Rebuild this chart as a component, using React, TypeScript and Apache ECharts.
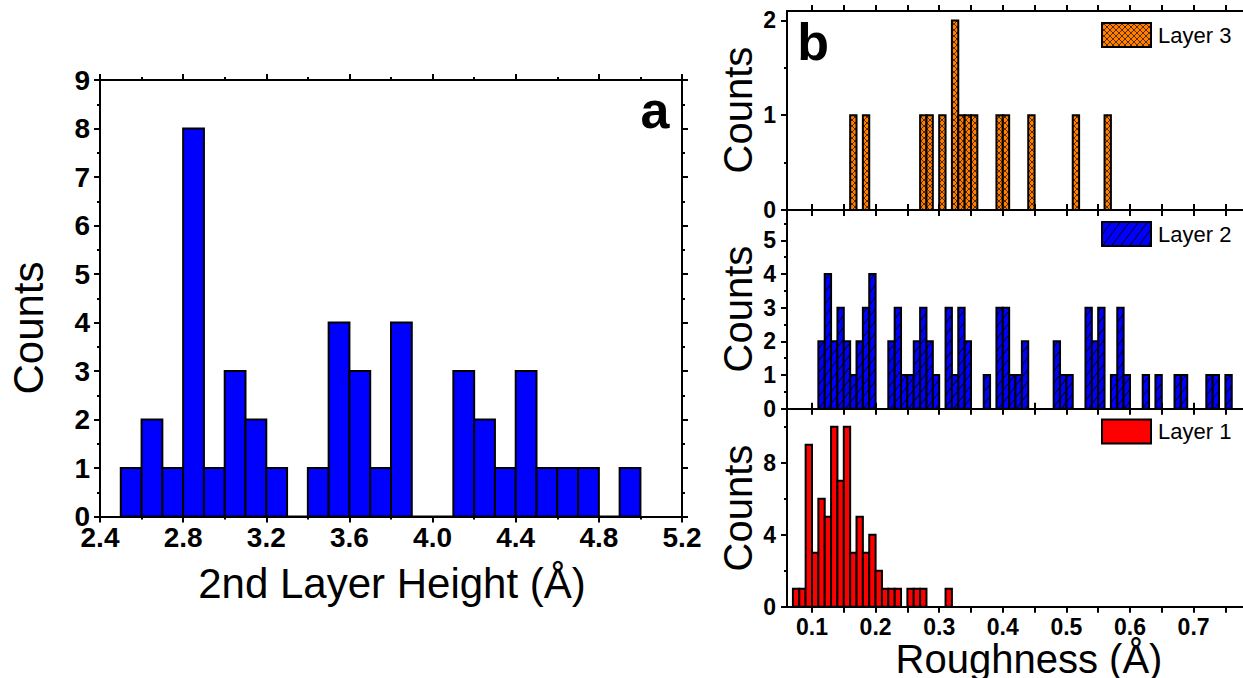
import React, { useEffect, useRef } from "react";
import * as echarts from "echarts";

// ---------- Panel a: 2nd layer height histogram ----------
const heightBinWidth = 0.1;
const heightBins = [2.5, 2.6, 2.7, 2.8, 2.9, 3.0, 3.1, 3.2, 3.3, 3.4, 3.5, 3.6, 3.7, 3.8, 3.9, 4.0, 4.1, 4.2, 4.3, 4.4, 4.5, 4.6, 4.7, 4.8, 4.9];
const heightCounts = [1, 2, 1, 8, 1, 3, 2, 1, 0, 1, 4, 3, 1, 4, 0, 0, 3, 2, 1, 3, 1, 1, 1, 0, 1];

// ---------- Panel b: roughness histograms ----------
const roughBinWidth = 0.01;
const layer3Bins = [0.16, 0.18, 0.27, 0.28, 0.30, 0.32, 0.33, 0.34, 0.35, 0.39, 0.40, 0.44, 0.51, 0.56];
const layer3Counts = [1, 1, 1, 1, 1, 2, 1, 1, 1, 1, 1, 1, 1, 1];

const layer2Bins = [0.11, 0.12, 0.13, 0.14, 0.15, 0.16, 0.17, 0.18, 0.19, 0.22, 0.23, 0.24, 0.25, 0.26, 0.27, 0.28, 0.29, 0.31, 0.32, 0.33, 0.34, 0.37, 0.39, 0.40, 0.41, 0.42, 0.43, 0.48, 0.49, 0.50, 0.53, 0.54, 0.55, 0.57, 0.58, 0.59, 0.62, 0.64, 0.67, 0.68, 0.72, 0.73, 0.75];
const layer2Counts = [2, 4, 2, 3, 2, 1, 2, 3, 4, 2, 3, 1, 1, 2, 3, 2, 1, 3, 1, 3, 2, 1, 3, 3, 1, 1, 2, 2, 1, 1, 3, 2, 3, 1, 3, 1, 1, 1, 1, 1, 1, 1, 1];

const layer1Bins = [0.07, 0.08, 0.09, 0.10, 0.11, 0.12, 0.13, 0.14, 0.15, 0.16, 0.17, 0.18, 0.19, 0.20, 0.21, 0.22, 0.23, 0.25, 0.26, 0.27, 0.31];
const layer1Counts = [1, 1, 9, 3, 6, 5, 10, 7, 10, 3, 5, 3, 4, 2, 1, 1, 1, 1, 1, 1, 1];

// axis ticks / labels
const roughMin = 0.0607;
const roughMax = 0.7777;
const roughTickValues = [0.1, 0.15, 0.2, 0.25, 0.3, 0.35, 0.4, 0.45, 0.5, 0.55, 0.6, 0.65, 0.7, 0.75];
const roughLabelValues = [0.1, 0.2, 0.3, 0.4, 0.5, 0.6, 0.7];
const layer3YMax = 2.1;
const layer3YMajor = [0, 1, 2];
const layer3YMinor = [0.5, 1.5];
const layer2YMax = 5.9;
const layer2YMajor = [0, 1, 2, 3, 4, 5];
const layer2YMinor = [0.5, 1.5, 2.5, 3.5, 4.5, 5.5];
const layer1YMax = 11;
const layer1YMajor = [0, 4, 8];
const layer1YMinor = [2, 6, 10];

const FONT = "'Liberation Sans', Arial, Helvetica, sans-serif";

function makePattern(bg: string, line: string, w: number, h: number, cross: boolean, lw: number) {
  const c = document.createElement("canvas");
  c.width = w;
  c.height = h;
  const ctx = c.getContext("2d")!;
  ctx.fillStyle = bg;
  ctx.fillRect(0, 0, w, h);
  ctx.strokeStyle = line;
  ctx.lineWidth = lw;
  ctx.beginPath();
  ctx.moveTo(-w * 0.1, h * 1.1);
  ctx.lineTo(w * 1.1, -h * 0.1);
  if (cross) {
    ctx.moveTo(-w * 0.1, -h * 0.1);
    ctx.lineTo(w * 1.1, h * 1.1);
  }
  ctx.stroke();
  return { image: c, repeat: "repeat", imageWidth: w, imageHeight: h } as any;
}

function histData(bins: number[], counts: number[], w: number) {
  return bins.map((b, i) => [b, b + w, counts[i]]);
}

function histSeries(name: string, data: number[][], xi: number, yi: number, fill: any, lw: number) {
  return {
    type: "custom",
    name,
    xAxisIndex: xi,
    yAxisIndex: yi,
    data,
    encode: { x: [0, 1], y: 2 },
    renderItem: (params: any, api: any) => {
      const x0 = api.value(0);
      const x1 = api.value(1);
      const y = api.value(2);
      const p0 = api.coord([x0, y]);
      const p1 = api.coord([x1, 0]);
      return {
        type: "rect",
        shape: { x: p0[0], y: p0[1], width: p1[0] - p0[0], height: p1[1] - p0[1] },
        style: { fill, stroke: "#000", lineWidth: lw },
      };
    },
  };
}

const lineStyle = { color: "#000", width: 2 };

function bAxisX(grid: number, position: string, showLabel: boolean) {
  return {
    gridIndex: grid,
    type: "value",
    position,
    min: roughMin,
    max: roughMax,
    axisLine: { show: true, onZero: false, lineStyle },
    axisTick: { show: true, inside: false, length: 6, customValues: roughTickValues, lineStyle },
    axisLabel: {
      show: showLabel,
      customValues: roughLabelValues,
      fontSize: 23,
      fontWeight: "bold",
      color: "#000",
      fontFamily: FONT,
      margin: 11,
      lineHeight: 18,
      formatter: (v: number) => v.toFixed(1),
    },
    splitLine: { show: false },
  };
}

function bAxisYMain(grid: number, max: number, major: number[]) {
  return {
    gridIndex: grid,
    type: "value",
    position: "left",
    min: 0,
    max,
    axisLine: { show: true, onZero: false, lineStyle },
    axisTick: { show: true, inside: false, length: 6, customValues: major, lineStyle },
    axisLabel: {
      show: true,
      customValues: major,
      fontSize: 23,
      fontWeight: "bold",
      color: "#000",
      fontFamily: FONT,
      margin: 11,
      lineHeight: 18,
    },
    splitLine: { show: false },
  };
}

function bAxisYMinor(grid: number, max: number, minor: number[]) {
  return {
    gridIndex: grid,
    type: "value",
    position: "left",
    offset: 0,
    min: 0,
    max,
    axisLine: { show: false, onZero: false },
    axisTick: { show: true, inside: false, length: 3, customValues: minor, lineStyle },
    axisLabel: { show: false },
    splitLine: { show: false },
  };
}

export default function App() {
  const ref = useRef<HTMLDivElement>(null);

  useEffect(() => {
    if (!ref.current) return;
    const chart = echarts.init(ref.current, undefined, { renderer: "svg" });

    const blue = "#0000FF";
    const red = "#FF0000";
    const crossPat = makePattern("#FF8000", "#4a2000", 6, 6, true, 0.9);
    const hatchPat = makePattern("#0000FF", "#000000", 9, 12, false, 1);

    const aAxisX = (position: string, showLabel: boolean) => ({
      gridIndex: 0,
      type: "value",
      position,
      min: 2.4,
      max: 5.2,
      interval: 0.4,
      axisLine: { show: true, onZero: false, lineStyle },
      axisTick: { show: true, inside: false, length: 6, lineStyle },
      minorTick: { show: true, splitNumber: 2, length: 3, lineStyle },
      axisLabel: {
        show: showLabel,
        fontSize: 28,
        fontWeight: "bold",
        color: "#000",
        fontFamily: FONT,
        margin: 10,
        lineHeight: 22,
        formatter: (v: number) => v.toFixed(1),
      },
      splitLine: { show: false },
      minorSplitLine: { show: false },
    });
    const aAxisY = (position: string, showLabel: boolean) => ({
      gridIndex: 0,
      type: "value",
      position,
      min: 0,
      max: 9,
      interval: 1,
      axisLine: { show: true, onZero: false, lineStyle },
      axisTick: { show: true, inside: false, length: 6, lineStyle },
      minorTick: { show: true, splitNumber: 2, length: 3, lineStyle },
      axisLabel: {
        show: showLabel,
        fontSize: 28,
        fontWeight: "bold",
        color: "#000",
        fontFamily: FONT,
        margin: 10,
        lineHeight: 22,
      },
      splitLine: { show: false },
      minorSplitLine: { show: false },
    });

    const txt = (text: string, x: number, y: number, font: string, lh: number, rot = 0, align = "center") => ({
      type: "text",
      x,
      y,
      rotation: rot,
      style: { text, x: 0, y: 0, align, verticalAlign: "middle", font, lineHeight: lh, fill: "#000" },
    });

    const option: any = {
      animation: false,
      backgroundColor: "#fff",
      grid: [
        { left: 100, right: 561, top: 80, bottom: 161.5 },
        { left: 787, right: 0, top: 11, height: 199 },
        { left: 787, right: 0, top: 210, height: 198.7 },
        { left: 787, right: 0, top: 408.7, height: 198 },
      ],
      xAxis: [
        aAxisX("bottom", true),
        aAxisX("top", false),
        bAxisX(1, "bottom", false),
        bAxisX(1, "top", false),
        bAxisX(2, "bottom", false),
        bAxisX(2, "top", false),
        bAxisX(3, "bottom", true),
        bAxisX(3, "top", false),
      ],
      yAxis: [
        aAxisY("left", true),
        aAxisY("right", false),
        bAxisYMain(1, layer3YMax, layer3YMajor),
        bAxisYMinor(1, layer3YMax, layer3YMinor),
        bAxisYMain(2, layer2YMax, layer2YMajor),
        bAxisYMinor(2, layer2YMax, layer2YMinor),
        bAxisYMain(3, layer1YMax, layer1YMajor),
        bAxisYMinor(3, layer1YMax, layer1YMinor),
      ],
      series: [
        histSeries("Height", histData(heightBins, heightCounts, heightBinWidth), 0, 0, blue, 2),
        histSeries("Layer 3", histData(layer3Bins, layer3Counts, roughBinWidth), 2, 2, crossPat, 2),
        histSeries("Layer 2", histData(layer2Bins, layer2Counts, roughBinWidth), 4, 4, hatchPat, 2),
        histSeries("Layer 1", histData(layer1Bins, layer1Counts, roughBinWidth), 6, 6, red, 2),
      ],
      graphic: [
        // panel a titles
        txt("Counts", 28, 328, `42px ${FONT}`, 34, Math.PI / 2),
        txt("2nd Layer Height (Å)", 392, 583, `42px ${FONT}`, 34),
        txt("a", 655, 110, `bold 52px ${FONT}`, 40),
        // panel b titles
        txt("b", 813, 42, `bold 52px ${FONT}`, 40),
        txt("Counts", 738, 110, `40px ${FONT}`, 32, Math.PI / 2),
        txt("Counts", 738, 309, `40px ${FONT}`, 32, Math.PI / 2),
        txt("Counts", 738, 508, `40px ${FONT}`, 32, Math.PI / 2),
        txt("Roughness (Å)", 1029, 659, `40px ${FONT}`, 30),
        // legends
        { type: "rect", shape: { x: 1102, y: 23, width: 49, height: 24 }, style: { fill: crossPat, stroke: "#000", lineWidth: 2 } },
        txt("Layer 3", 1158, 35, `22px ${FONT}`, 20, 0, "left"),
        { type: "rect", shape: { x: 1102, y: 222, width: 49, height: 24 }, style: { fill: hatchPat, stroke: "#000", lineWidth: 2 } },
        txt("Layer 2", 1158, 234, `22px ${FONT}`, 20, 0, "left"),
        { type: "rect", shape: { x: 1102, y: 419.5, width: 49, height: 24 }, style: { fill: red, stroke: "#000", lineWidth: 2 } },
        txt("Layer 1", 1158, 431, `22px ${FONT}`, 20, 0, "left"),
      ],
    };

    chart.setOption(option);
    return () => {
      chart.dispose();
    };
  }, []);

  return (
    <div
      ref={ref}
      style={{ position: "fixed", left: 0, top: 0, width: 1243, height: 678, background: "#fff" }}
    />
  );
}
